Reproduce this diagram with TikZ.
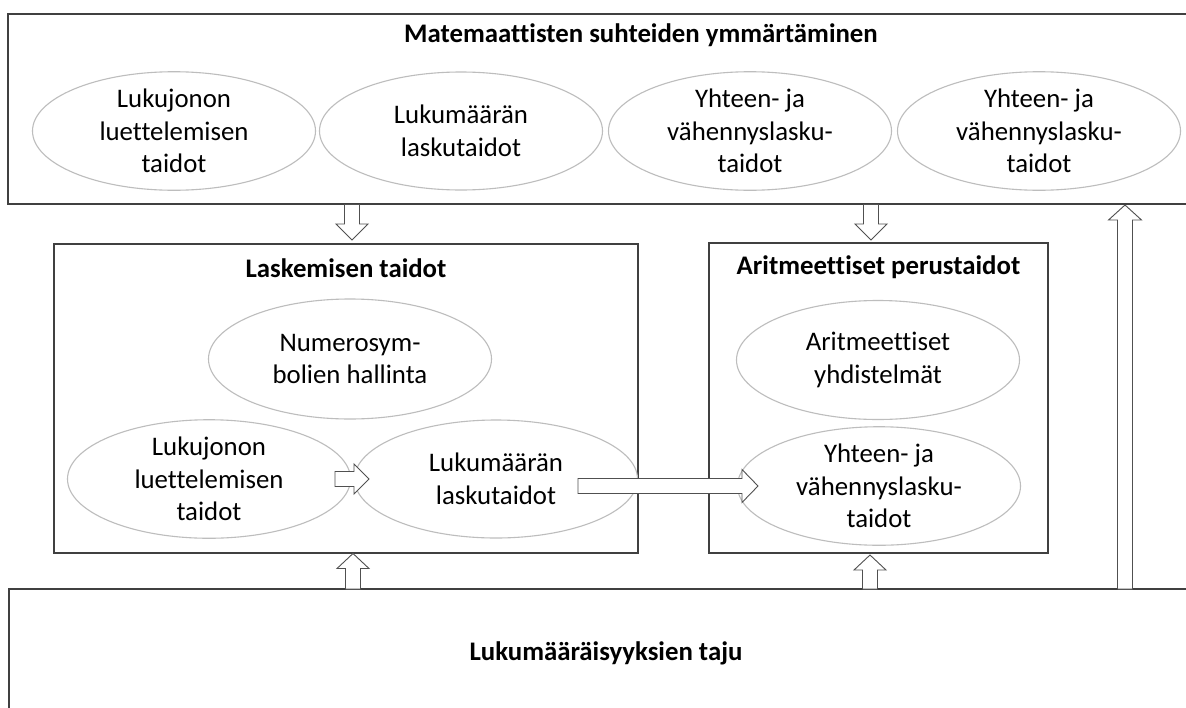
\documentclass[tikz,border=0pt]{standalone}
\usepackage{fontspec}
\setmainfont{Carlito}[Ligatures={NoCommon}]
\usetikzlibrary{calc,shapes.geometric}
\definecolor{boxline}{HTML}{404040}
\definecolor{elline}{HTML}{BDBDBD}
\definecolor{arrline}{HTML}{505050}
\tikzset{
  frame/.style={draw=boxline, line width=1.3pt, inner sep=0pt, fill=white},
  oval/.style={ellipse, draw=elline, line width=1.1pt, inner sep=0pt,
    minimum width=283pt, minimum height=118pt, align=center,
    font=\fontsize{26.8pt}{32.5pt}\selectfont},
  ttl/.style={anchor=base, inner sep=0pt, font=\fontsize{26.8pt}{32.5pt}\selectfont\bfseries},
  barrow/.style={draw=arrline, fill=white, line width=0.9pt, line join=miter}
}
\newcommand\bkarrow[5]{%
  \coordinate (hb) at ($(#2)!#5!(#1)$);
  \draw[barrow] ($(#1)!#3!90:(#2)$) -- ($(hb)!#3!-90:(#1)$) -- ($(hb)!#4!-90:(#1)$)
    -- (#2) -- ($(hb)!#4!90:(#1)$) -- ($(hb)!#3!90:(#1)$) -- ($(#1)!#3!-90:(#2)$) -- cycle;
}
\begin{document}
\begin{tikzpicture}[x=1pt,y=-1pt]
\useasboundingbox (0,0) rectangle (1186,707);
\clip (0,0) rectangle (1186,707);
\fill[white] (0,0) rectangle (1186,707);

% top box
\node[frame, minimum width=1266pt, minimum height=190pt] (top) at (641,109) {};
\node[ttl] (toptitle) at (641,42) {Matemaattisten suhteiden ymmärtäminen};
\node[oval] (t1) at (174,131) {Lukujonon\\luettelemisen\\taidot};
\node[oval] (t2) at (461,131) {Lukumäärän\\laskutaidot};
\node[oval] (t3) at (750,131) {Yhteen- ja\\vähennyslasku-\\taidot};
\node[oval] (t4) at (1039,131) {Yhteen- ja\\vähennyslasku-\\taidot};

% bottom box
\node[frame, minimum width=1194pt, minimum height=211pt] (bot) at (606,694.5) {};
\node[ttl] (bottitle) at (606,660) {Lukumääräisyyksien taju};

% left middle box
\node[frame, minimum width=584pt, minimum height=309pt] (lt) at (346,398.5) {};
\node[ttl] (lttitle) at (346,277) {Laskemisen taidot};
\node[oval, minimum height=120pt] (l1) at (350,359) {Numerosym-\\bolien hallinta};
\node[oval] (l2) at (209,479) {Lukujonon\\luettelemisen\\taidot};
\node[oval] (l3) at (496,479) {Lukumäärän\\laskutaidot};

% right middle box
\node[frame, minimum width=339pt, minimum height=310pt] (rt) at (878.5,398) {};
\node[ttl] (rttitle) at (878.5,274) {Aritmeettiset perustaidot};
\node[oval, minimum height=119pt] (r1) at (878,360) {Aritmeettiset\\yhdistelmät};
\node[oval] (r2) at (879,486) {Yhteen- ja\\vähennyslasku-\\taidot};

% arrow end points
\coordinate (d1s) at (352,204.5);
\coordinate (d1e) at (352,240);
\coordinate (d2s) at (871,204.5);
\coordinate (d2e) at (871,240);
\coordinate (u1s) at (353,589);
\coordinate (u1e) at (353,553.5);
\coordinate (u2s) at (870,589);
\coordinate (u2e) at (870,555);
\coordinate (u3s) at (1125,589);
\coordinate (u3e) at (1125,205);
\coordinate (hs) at (335,479);
\coordinate (he) at (369,479);
\coordinate (bs) at (578,486);
\coordinate (be) at (758,486);

\bkarrow{d1s}{d1e}{7.5pt}{16pt}{16pt}
\bkarrow{d2s}{d2e}{7.5pt}{16pt}{16pt}
\bkarrow{u1s}{u1e}{7.5pt}{16pt}{15pt}
\bkarrow{u2s}{u2e}{7.5pt}{16pt}{15pt}
\bkarrow{u3s}{u3e}{7.5pt}{16.5pt}{15pt}
\bkarrow{hs}{he}{7.5pt}{15pt}{15pt}
\bkarrow{bs}{be}{7.5pt}{16.5pt}{16pt}
\end{tikzpicture}
\end{document}
